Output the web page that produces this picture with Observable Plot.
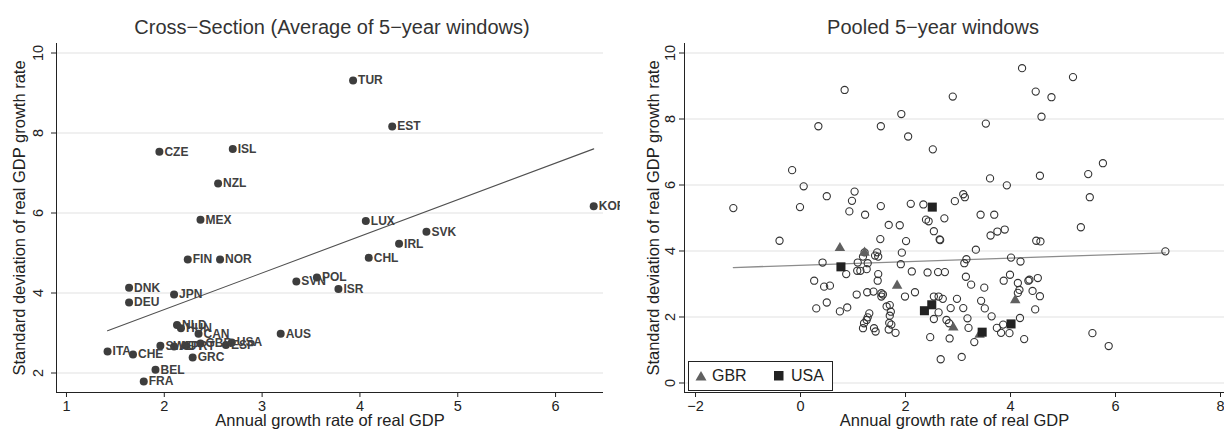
<!DOCTYPE html>
<html><head><meta charset="utf-8">
<script src="https://cdn.jsdelivr.net/npm/d3@7"></script>
<script src="https://cdn.jsdelivr.net/npm/@observablehq/plot@0.6"></script>
<style>
body{margin:0;background:#fff;font-family:"Liberation Sans",Arial,sans-serif;}
#wrap{position:relative;width:1224px;height:430px;overflow:hidden;background:#fff;}
.title{position:absolute;top:16px;font-size:20px;color:#333;white-space:nowrap;transform:translateX(-50%);}
#left{position:absolute;left:0;top:40px;width:620px;height:390px;overflow:hidden;z-index:2;}
#right{position:absolute;left:612px;top:40px;width:612px;height:390px;z-index:1;}
#legend{position:absolute;left:688px;top:361px;width:143px;height:28px;border:1px solid #222;background:#fff;z-index:3;font-size:16px;color:#222;}
#legend span{position:absolute;top:5px;}
#legend svg{position:absolute;top:0;left:0;}
</style></head><body>
<div id="wrap">
  <div class="title" style="left:332px">Cross−Section (Average of 5−year windows)</div>
  <div class="title" style="left:933px">Pooled 5−year windows</div>
  <div id="left"></div>
  <div id="right"></div>
  <div id="legend">
    <svg width="143" height="28"><path d="M12,9 L17.5,18.5 L6.5,18.5 Z" fill="#606060"/><rect x="85" y="9" width="9.5" height="9.5" fill="#222"/></svg>
    <span id="lg1" style="left:23px"></span>
    <span id="lg2" style="left:102px"></span>
  </div>
</div>
<script>
// ---- Cross-section data ----
const countries = ["TUR","EST","CZE","ISL","NZL","KOR","MEX","LUX","SVK","IRL","FIN","NOR","CHL","SVN","POL","ISR","DNK","DEU","JPN","NLD","HUN","SWE","AUT","PRT","GBR","ESP","USA","GRC","CAN","ITA","CHE","BEL","FRA","AUS"];
const csGrowth = [3.93,4.33,1.95,2.70,2.55,6.39,2.37,4.06,4.68,4.40,2.24,2.57,4.09,3.35,3.56,3.78,1.64,1.64,2.10,2.13,2.17,1.96,2.10,2.22,2.37,2.63,2.69,2.29,2.35,1.42,1.68,1.91,1.79,3.19];
const csStdev  = [9.31,8.16,7.53,7.60,6.74,6.17,5.83,5.80,5.53,5.23,4.84,4.84,4.88,4.29,4.39,4.10,4.13,3.76,3.96,3.20,3.12,2.68,2.66,2.68,2.74,2.70,2.76,2.39,2.98,2.54,2.46,2.08,1.79,2.98];

// ---- Pooled 5-year windows (other countries) ----
const pooledGrowth = [-1.28,-0.01,-0.16,0.06,0.34,0.84,0.50,1.03,0.98,0.93,1.23,1.53,1.53,1.92,2.05,2.10,2.34,2.52,2.90,2.94,3.10,3.13,2.74,3.43,3.69,3.53,3.61,3.93,4.22,4.48,4.78,4.59,4.56,5.19,5.48,5.76,5.51,
2.39,2.44,1.68,1.89,-0.40,1.52,2.01,2.54,2.65,2.66,3.62,3.75,3.89,4.49,4.57,5.34,1.22,1.46,1.42,1.48,1.93,0.42,0.87,1.09,1.14,1.08,1.28,1.26,1.19,1.91,2.12,2.42,2.62,2.75,3.16,3.12,3.34,4.01,4.19,1.48,1.47,0.26,0.45,0.56,1.07,1.27,1.39,1.54,1.54,1.57,1.99,2.18,3.15,3.25,3.50,3.87,3.99,4.14,4.17,4.14,4.34,4.36,4.52,4.42,4.56,2.54,2.63,2.71,2.98,3.44,0.30,0.50,0.75,0.89,1.31,1.64,1.70,1.72,1.70,1.69,1.73,1.28,1.26,1.21,1.19,1.40,1.43,1.68,1.81,2.63,2.86,3.10,3.18,2.54,2.78,2.83,3.20,3.51,3.64,3.74,3.86,3.82,3.98,4.18,4.47,3.31,2.47,2.84,4.26,2.67,3.07,5.56,5.87,6.95];
const pooledStdev = [5.30,5.33,6.45,5.96,7.78,8.88,5.66,5.80,5.52,5.20,5.10,7.78,5.36,8.15,7.47,5.43,5.41,7.08,8.68,5.51,5.72,5.63,4.99,5.10,5.10,7.86,6.20,5.99,9.54,8.83,8.66,8.07,6.28,9.27,6.33,6.66,5.63,
4.95,4.90,4.79,4.78,4.31,4.36,4.30,4.60,4.35,4.33,4.47,4.59,4.65,4.31,4.29,4.72,3.96,3.96,3.86,3.83,3.95,3.65,3.30,3.65,3.40,3.40,3.63,3.45,3.83,3.60,3.38,3.35,3.36,3.36,3.75,3.63,4.04,3.80,3.68,3.30,3.10,3.10,2.92,2.95,2.68,2.75,2.77,2.72,2.62,2.68,2.62,2.75,3.22,2.98,2.89,3.10,3.28,3.03,2.82,2.73,3.10,3.13,3.18,2.79,2.63,2.62,2.62,2.55,2.55,2.49,2.26,2.44,2.17,2.29,2.11,2.32,2.36,2.16,2.04,1.82,1.77,1.99,1.91,1.81,1.66,1.66,1.56,1.62,1.52,2.14,2.27,2.27,1.96,1.94,1.91,1.81,1.67,2.26,2.02,1.67,1.77,1.52,1.51,1.97,2.23,1.24,1.39,1.35,1.33,0.72,0.79,1.51,1.12,3.99];
const gbrGrowth = [0.75,1.22,1.84,2.91,3.41,4.09];
const gbrStdev  = [4.09,3.95,2.95,1.68,1.46,2.51];
const usaGrowth = [2.51,0.77,2.36,2.50,3.46,4.01];
const usaStdev  = [5.33,3.52,2.19,2.37,1.54,1.79];

const csXTicks = [1,2,3,4,5,6];
const csYTicks = [2,4,6,8,10];
const pXTicks = [-2,0,2,4,6,8];
const pYTicks = [0,2,4,6,8,10];
const xLabel = "Annual growth rate of real GDP";
const yLabel = "Standard deviation of real GDP growth rate";
const legendLabels = ["GBR","USA"];

document.getElementById("lg1").textContent = legendLabels[0];
document.getElementById("lg2").textContent = legendLabels[1];

const cs = countries.map((c,i)=>({c, g: csGrowth[i], s: csStdev[i]}));
const pooled = pooledGrowth.map((g,i)=>({g, s: pooledStdev[i]}));
const gbr = gbrGrowth.map((g,i)=>({g, s: gbrStdev[i]}));
const usa = usaGrowth.map((g,i)=>({g, s: usaStdev[i]}));
const allPooled = pooled.concat(gbr, usa);

const font = "Liberation Sans, Arial, sans-serif";
const fmt = d => d < 0 ? "−" + Math.abs(d) : String(d);

const csX = [0.898, 6.49], csY = [1.5125, 10.2375];
const left = Plot.plot({
  width: 620, height: 390, marginTop: 3, marginBottom: 38, marginLeft: 56, marginRight: 17,
  style: {background: "transparent", fontFamily: font, fontSize: "14.5px", color: "#222", overflow: "visible"},
  x: {domain: csX, ticks: csXTicks, tickSize: 5, tickPadding: 3, label: null, tickFormat: fmt},
  y: {domain: csY, ticks: csYTicks, tickSize: 5, tickFormat: () => "", label: null},
  marks: [
    Plot.ruleY(csYTicks, {stroke: "#ebebeb", strokeWidth: 1.3}),
    Plot.ruleX([csX[0]], {stroke: "#222"}),
    Plot.ruleY([csY[0]], {stroke: "#222"}),
    Plot.linearRegressionY(cs, {x: "g", y: "s", ci: 0, stroke: "#505050", strokeWidth: 1.1}),
    Plot.dot(cs, {x: "g", y: "s", r: 4, fill: "#3d3d3d"}),
    Plot.text(cs, {x: "g", y: "s", text: "c", dx: 5, textAnchor: "start", fontSize: 12, fontWeight: "bold", fill: "#404040"}),
    Plot.text(csYTicks, {y: d => d, text: d => String(d), frameAnchor: "left", dx: -18, rotate: -90, textAnchor: "middle", lineAnchor: "middle", fontSize: 14.5, fill: "#222"}),
    Plot.text([yLabel], {text: d => d, frameAnchor: "left", dx: -37, rotate: -90, textAnchor: "middle", lineAnchor: "middle", fontSize: 16.5, fill: "#222"}),
    Plot.text([xLabel], {text: d => d, frameAnchor: "bottom", dy: 28, textAnchor: "middle", lineAnchor: "middle", fontSize: 16.5, fill: "#222"})
  ]
});
document.getElementById("left").appendChild(left);

const pX = [-2.21, 8.076], pY = [-0.288, 10.288];
const right = Plot.plot({
  width: 612, height: 390, marginTop: 3, marginBottom: 38, marginLeft: 72, marginRight: 0,
  style: {background: "transparent", fontFamily: font, fontSize: "14.5px", color: "#222"},
  x: {domain: pX, ticks: pXTicks, tickSize: 5, tickPadding: 3, label: null, tickFormat: fmt},
  y: {domain: pY, ticks: pYTicks, tickSize: 5, tickFormat: () => "", label: null},
  marks: [
    Plot.ruleY(pYTicks, {stroke: "#ebebeb", strokeWidth: 1.3}),
    Plot.ruleX([pX[0]], {stroke: "#222"}),
    Plot.ruleY([pY[0]], {stroke: "#222"}),
    Plot.linearRegressionY(allPooled, {x: "g", y: "s", ci: 0, stroke: "#8c8c8c", strokeWidth: 1.3}),
    Plot.dot(pooled, {x: "g", y: "s", r: 3.6, stroke: "#333", strokeWidth: 1.1, fill: "none"}),
    Plot.dot(gbr, {x: "g", y: "s", r: 3.9, symbol: "triangle", fill: "#606060", stroke: "none"}),
    Plot.dot(usa, {x: "g", y: "s", r: 5.1, symbol: "square", fill: "#222", stroke: "none"}),
    Plot.text(pYTicks, {y: d => d, text: d => String(d), frameAnchor: "left", dx: -14, rotate: -90, textAnchor: "middle", lineAnchor: "middle", fontSize: 14.5, fill: "#222"}),
    Plot.text([yLabel], {text: d => d, frameAnchor: "left", dx: -31, rotate: -90, textAnchor: "middle", lineAnchor: "middle", fontSize: 16.5, fill: "#222"}),
    Plot.text([xLabel], {text: d => d, frameAnchor: "bottom", dy: 28, textAnchor: "middle", lineAnchor: "middle", fontSize: 16.5, fill: "#222"})
  ]
});
document.getElementById("right").appendChild(right);
</script>
</body></html>
